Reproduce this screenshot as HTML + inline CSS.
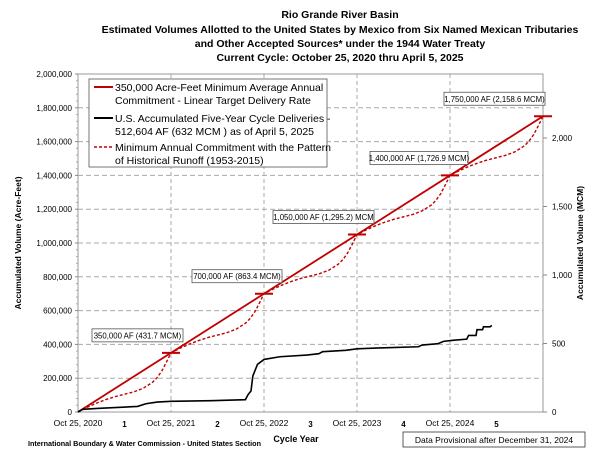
<!DOCTYPE html>
<html><head><meta charset="utf-8"><style>
html,body{margin:0;padding:0;background:#fff;}
svg{display:block;font-family:"Liberation Sans",sans-serif;}
</style></head><body>
<svg id="chart" width="600" height="465" viewBox="0 0 600 465">
<g font-weight="bold" font-size="10.5" text-anchor="middle" fill="#000">
<text x="340" y="18">Rio Grande River Basin</text>
<text x="340" y="33">Estimated Volumes Allotted to the United States by Mexico from Six Named Mexican Tributaries</text>
<text x="340" y="47">and Other Accepted Sources* under the 1944 Water Treaty</text>
<text x="340" y="61">Current Cycle: October 25, 2020 thru April 5, 2025</text>
</g>
<g id="grid"></g>
<rect x="78" y="74" width="465" height="338" fill="none" stroke="#999" stroke-width="1"/>
<g id="axes"></g>
<g id="series"></g>
<g id="notes"></g>
<g>
<rect x="89" y="79" width="238" height="88" fill="#fff" stroke="#555" stroke-width="0.8"/>
<line x1="94" y1="87" x2="113" y2="87" stroke="#c00000" stroke-width="2"/>
<text x="115" y="91" font-size="10.5">350,000 Acre-Feet Minimum Average Annual</text>
<text x="115" y="104" font-size="10.5">Commitment - Linear Target Delivery Rate</text>
<line x1="94" y1="118" x2="113" y2="118" stroke="#000" stroke-width="2"/>
<text x="115" y="122" font-size="10.5">U.S. Accumulated Five-Year Cycle Deliveries -</text>
<text x="115" y="135" font-size="10.5">512,604 AF (632 MCM ) as of April 5, 2025</text>
<line x1="94" y1="147" x2="113" y2="147" stroke="#c00000" stroke-width="1.5" stroke-dasharray="3,2"/>
<text x="115" y="151" font-size="10.5">Minimum Annual Commitment with the Pattern</text>
<text x="115" y="164" font-size="10.5">of Historical Runoff (1953-2015)</text>
</g>
<text transform="translate(21,243) rotate(-90)" text-anchor="middle" font-size="8.5" font-weight="bold">Accumulated Volume (Acre-Feet)</text>
<text transform="translate(583,243) rotate(-90)" text-anchor="middle" font-size="8.5" font-weight="bold">Accumulated Volume (MCM)</text>
<text x="296" y="442" text-anchor="middle" font-size="9" font-weight="bold">Cycle Year</text>
<text x="28" y="446" font-size="7.2" font-weight="bold">International Boundary &amp; Water Commission - United States Section</text>
<rect x="403" y="432" width="182" height="15" fill="#fff" stroke="#333" stroke-width="0.8"/>
<text x="494" y="443" text-anchor="middle" font-size="8.5">Data Provisional after December 31, 2024</text>
</svg>
<script>
const yTicks=[0,200000,400000,600000,800000,1000000,1200000,1400000,1600000,1800000,2000000];
const mcmTicks=[0,500,1000,1500,2000];
const xTickLabels=["Oct 25, 2020","Oct 25, 2021","Oct 25, 2022","Oct 25, 2023","Oct 25, 2024"];
const cycleYearLabels=["1","2","3","4","5"];
const linearYears=[0,5];
const linearValues=[0,1750000];
const histPatternT=[0,0.1,0.2,0.3,0.4,0.5,0.6,0.7,0.8,0.85,0.9,0.95,1];
const histPatternF=[0,0.08,0.15,0.21,0.26,0.3,0.34,0.4,0.5,0.58,0.69,0.84,1];
const annualCommitment=350000;
const delivYears=[0,0.05,0.23,0.64,0.73,0.85,1,1.43,1.8,1.83,1.86,1.88,1.93,2,2.17,2.46,2.59,2.63,2.88,3,3.29,3.66,3.7,3.87,3.93,4.03,4.18,4.2,4.28,4.29,4.35,4.36,4.43,4.45];
const delivValues=[0,16000,22000,33000,49000,59000,63000,67000,73000,104000,124000,213000,282000,311000,327000,337000,345000,357000,365000,374000,380000,386000,396000,404000,418000,424000,431000,453000,453000,487000,487000,504000,504000,512604];
const targetLabels=["350,000 AF (431.7 MCM)","700,000 AF (863.4 MCM)","1,050,000 AF (1,295.2) MCM","1,400,000  AF (1,726.9 MCM)","1,750,000 AF (2,158.6 MCM)"];
const targetValues=[350000,700000,1050000,1400000,1750000];
const MCM_PER_AF=0.0012335;

const NS="http://www.w3.org/2000/svg";
const X0=78,X1=543,Y0=412,Y1=74;
const xs=yr=>X0+(X1-X0)*yr/5;
const ys=v=>Y0-(Y0-Y1)*v/2000000;
function mk(tag,attrs,parent){const e=document.createElementNS(NS,tag);for(const k in attrs)e.setAttribute(k,attrs[k]);parent.appendChild(e);return e;}
const grid=document.getElementById('grid'),axes=document.getElementById('axes'),series=document.getElementById('series'),notes=document.getElementById('notes');
yTicks.forEach((v,i)=>{
  if(i>0&&i<yTicks.length-1){const g=mk('line',{x1:X0,x2:X1,y1:ys(v),y2:ys(v),stroke:'#aaa','stroke-dasharray':'5,3','stroke-width':1},grid);
  
  }
  const t=mk('text',{x:X0-6,y:ys(v)+3,'text-anchor':'end','font-size':8},axes);t.textContent=v.toLocaleString('en-US');
  
  
  mk('line',{x1:X0-3,x2:X0,y1:ys(v),y2:ys(v),stroke:'#888'},axes);
});
for(let i=0;i<yTicks.length-1;i++){for(let k=1;k<5;k++){const v=yTicks[i]+(yTicks[i+1]-yTicks[i])*k/5;mk('line',{x1:X0-2,x2:X0,y1:ys(v),y2:ys(v),stroke:'#aaa'},axes);}}
mcmTicks.forEach(m=>{
  const y=ys(m/MCM_PER_AF);
  mk('line',{x1:X1,x2:X1+4,y1:y,y2:y,stroke:'#888'},axes);
  const t=mk('text',{x:X1+9,y:y+3,'font-size':8},axes);t.textContent=m.toLocaleString('en-US');
  
  
});
xTickLabels.forEach((l,i)=>{
  if(i>0){const g=mk('line',{x1:xs(i),x2:xs(i),y1:Y1,y2:Y0,stroke:'#aaa','stroke-dasharray':'4,3'},grid);
  
  }
  const t=mk('text',{x:xs(i),y:Y0+14,'text-anchor':'middle','font-size':8.5},axes);t.textContent=l;
  
  
});
cycleYearLabels.forEach((l,i)=>{
  const t=mk('text',{x:xs(i+0.5),y:Y0+15,'text-anchor':'middle','font-size':8,'font-weight':'bold'},axes);t.textContent=l;
  
  
});
// historical dashed
let hp=[];
for(let yr=0;yr<5;yr++){histPatternT.forEach((t,j)=>{if(yr>0&&j===0)return;hp.push(xs(yr+t)+','+ys(annualCommitment*(yr+histPatternF[j])));});}
const hl=mk('polyline',{points:hp.join(' '),fill:'none',stroke:'#c00000','stroke-width':1.4,'stroke-dasharray':'3,2'},series);


const ll=mk('polyline',{points:linearYears.map((y,i)=>xs(y)+','+ys(linearValues[i])).join(' '),fill:'none',stroke:'#c00000','stroke-width':1.8},series);


const dl=mk('polyline',{points:delivYears.map((y,i)=>xs(y)+','+ys(delivValues[i])).join(' '),fill:'none',stroke:'#000','stroke-width':1.6},series);


// annotations
const boxX=[92,192,273,370,444];
const boxW=[91,90,101,98,101];
targetValues.forEach((v,i)=>{
  const x=xs(i+1),y=ys(v);
  const m=mk('line',{x1:x-9,x2:x+9,y1:y,y2:y,stroke:'#c00000','stroke-width':2},notes);
  
  
  const by=y-24;
  const r=mk('rect',{x:boxX[i],y:by,width:boxW[i],height:13,fill:'#fff',stroke:'#555','stroke-width':0.8},notes);
  
  
  const t=mk('text',{x:boxX[i]+boxW[i]/2,y:by+9.5,'text-anchor':'middle','font-size':7.8},notes);t.textContent=targetLabels[i];
  
  
});
</script>
</body></html>
